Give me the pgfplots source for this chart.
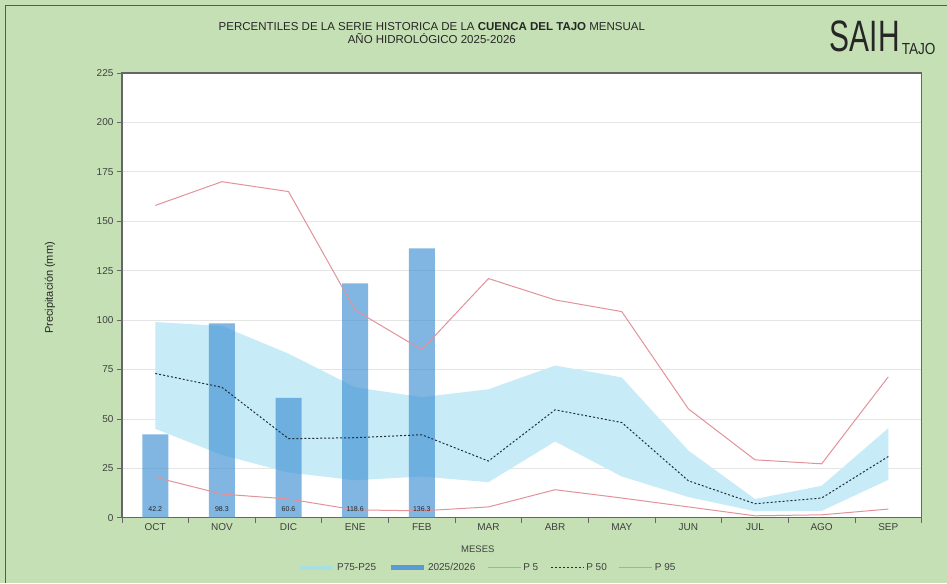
\documentclass[border=0pt]{standalone}
\usepackage{fontspec}
\setmainfont{Liberation Sans}
\newfontfamily\logofont[FakeStretch=0.68]{Liberation Sans}
\newfontfamily\logosmall[FakeStretch=0.85]{Liberation Sans}
\usepackage{pgfplots}
\pgfplotsset{compat=1.18}
\definecolor{bg}{RGB}{197,224,180}
\definecolor{band}{RGB}{200,235,248}
\definecolor{bandleg}{RGB}{168,223,224}
\definecolor{barc}{RGB}{61,143,209}
\definecolor{barleg}{RGB}{91,155,213}
\definecolor{pline}{RGB}{226,146,154}
\definecolor{medc}{RGB}{30,45,60}
\definecolor{tickc}{RGB}{64,64,64}
\begin{document}
\begin{tikzpicture}[x=1pt,y=1pt]
\fill[bg] (0,0) rectangle (947,583);
\draw[gray!70!black, line width=0.8pt] (5,0) -- (5,578) -- (947,578);
\node[font=\fontsize{11.5}{13.5}\selectfont, align=center, text=black!85] at (432,550)
  {PERCENTILES DE LA SERIE HISTORICA DE LA \textbf{CUENCA DEL TAJO} MENSUAL\\ AÑO HIDROLÓGICO 2025-2026};
\node[anchor=base west, inner sep=0pt, font=\logofont\fontsize{44}{44}\selectfont, text=black!85] at (830,531) {SAIH};
\node[anchor=base west, inner sep=0pt, font=\logosmall\fontsize{16}{16}\selectfont, text=black!85] at (902,528) {TAJO};
\node[rotate=90, font=\fontsize{11}{13}\selectfont, text=black!85] at (50,295) {Precipitación (mm)};
\node[font=\fontsize{9.5}{11}\selectfont, text=tickc] at (478,34) {MESES};
\begin{axis}[
  at={(122pt,65pt)}, anchor=south west, scale only axis,
  width=800pt, height=445pt,
  xmin=-0.5, xmax=11.5, ymin=0, ymax=225,
  axis background/.style={fill=white},
  xtick pos=bottom, ytick pos=left,
  ytick={0,25,...,225},
  ymajorgrids, grid style={draw=black!10, line width=0.8pt},
  xtick={-0.5,0.5,...,11.5}, xticklabel={\mbox{}},
  extra x ticks={0,1,...,11},
  extra x tick labels={OCT,NOV,DIC,ENE,FEB,MAR,ABR,MAY,JUN,JUL,AGO,SEP},
  extra x tick style={major tick length=0pt, grid=none},
  tick align=outside, major tick length=5pt,
  tick style={draw=gray!80!black, line width=0.8pt},
  axis line style={draw=gray!80!black, line width=1.2pt},
  ticklabel style={font=\fontsize{10}{12}\selectfont, text=tickc},
  /pgf/number format/assume math mode=true,
  xticklabel style={yshift=-2pt},
  legend style={at={(0.4575,-0.112)}, anchor=center, draw=none, fill=none,
    font=\fontsize{10}{12}\selectfont, text=tickc,
    /tikz/every even column/.append style={column sep=10pt},
    /tikz/every odd column/.append style={column sep=0pt}},
  legend columns=5,
  legend cell align=left,
  legend image code/.code={\draw[#1] (0pt,0pt) -- (33pt,0pt);},
]
\addlegendimage{bandleg, line width=4pt}
\addlegendentry{P75-P25}
\addlegendimage{barleg, line width=5pt}
\addlegendentry{2025/2026}
\addlegendimage{pline, line width=1pt}
\addlegendentry{P 5}
\addlegendimage{medc, line width=1pt, dash pattern=on 2pt off 2pt}
\addlegendentry{P 50}
\addlegendimage{pline, line width=1pt}
\addlegendentry{P 95}

% P75 (forward) then P25 (backward)
\addplot[fill=band, draw=none, forget plot] coordinates {
(0,99)(1,97)(2,83)(3,66)(4,61)(5,65)(6,77)(7,71)(8,34)(9,9.5)(10,16.2)(11,45.3)
(11,19.2)(10,3.5)(9,3.3)(8,10.5)(7,20.9)(6,38.6)(5,18)(4,20.9)(3,19)(2,22.9)(1,31.8)(0,45)} -- cycle;

\addplot[ybar, bar width=26pt, fill=barc, fill opacity=0.65, draw=none, forget plot] coordinates {
(0,42.2)(1,98.3)(2,60.6)(3,118.6)(4,136.3)};

\addplot[pline, line width=1pt, forget plot] coordinates {
(0,20.5)(1,12)(2,9.5)(3,4)(4,3.5)(5,5.5)(6,14.2)(7,10)(8,5.5)(9,1)(10,1.5)(11,4.4)};
\addplot[medc, line width=1pt, dash pattern=on 2pt off 2pt, forget plot] coordinates {
(0,73)(1,66)(2,40)(3,40.5)(4,42)(5,28.7)(6,54.6)(7,48.2)(8,18.7)(9,7.1)(10,10)(11,31)};
\addplot[pline, line width=1pt, forget plot] coordinates {
(0,158)(1,170)(2,165)(3,105)(4,85)(5,121)(6,110.2)(7,104.3)(8,55.1)(9,29.3)(10,27.3)(11,71.3)};

\addplot[only marks, mark=none, nodes near coords, point meta=explicit symbolic,
  nodes near coords style={font=\fontsize{7}{8}\selectfont, anchor=center, text=black!85},
  forget plot] coordinates {
(0,4.5)[42.2] (1,4.5)[98.3] (2,4.5)[60.6] (3,4.5)[118.6] (4,4.5)[136.3]};
\end{axis}
\end{tikzpicture}
\end{document}
